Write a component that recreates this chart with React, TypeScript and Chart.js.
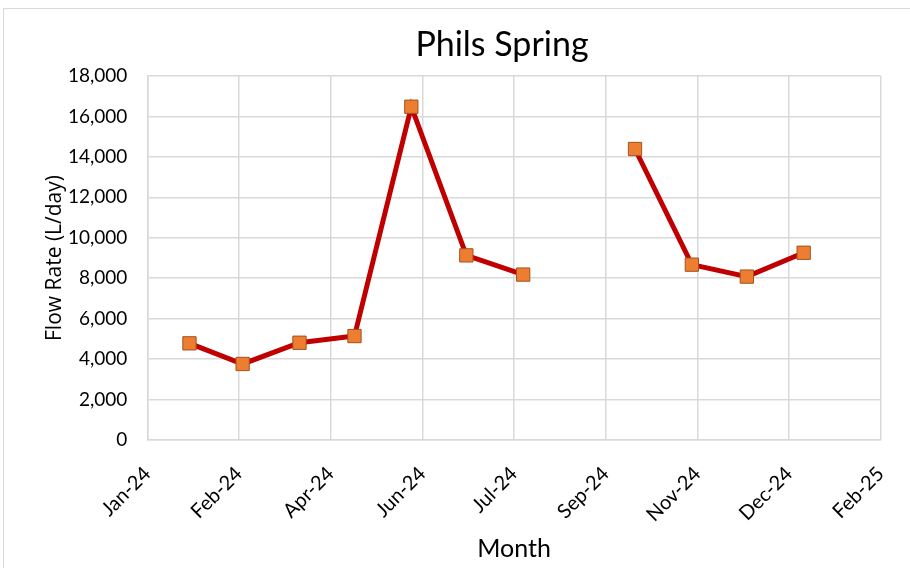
import React, { useEffect, useRef } from 'react';
import { Chart, registerables } from 'chart.js';

Chart.register(...registerables);

const TITLE = 'Phils Spring';
const X_TITLE = 'Month';
const Y_TITLE = 'Flow Rate (L/day)';

const DATES = [
  '2024-02-01', '2024-03-01', '2024-04-01', '2024-05-01', '2024-06-01', '2024-07-01',
  '2024-08-01', '2024-09-01', '2024-10-01', '2024-11-01', '2024-12-01', '2025-01-01',
];
const FLOW = [4780, 3760, 4810, 5140, 16480, 9130, 8180, null, 14390, 8670, 8080, 9260];

const X_MIN_DATE = '2024-01-09';
const X_MAX_DATE = '2025-02-12';
const X_STEP_DAYS = 50;
const Y_MIN = 0;
const Y_MAX = 18000;
const Y_STEP = 2000;
const MONTHS = ['Jan', 'Feb', 'Mar', 'Apr', 'May', 'Jun', 'Jul', 'Aug', 'Sep', 'Oct', 'Nov', 'Dec'];

function toSerial(iso: string): number {
  const [y, m, d] = iso.split('-').map(Number);
  return Date.UTC(y, m - 1, d) / 86400000 + 25569;
}

function serialLabel(v: number): string {
  const dt = new Date((v - 25569) * 86400000);
  return MONTHS[dt.getUTCMonth()] + '-' + String(dt.getUTCFullYear() % 100).padStart(2, '0');
}

const FONT = 'Lato';
const YTITLE_FONT = '"Open Sans"';

const titlePlugin = {
  id: 'excelTitle',
  afterDraw(chart: any) {
    const { ctx } = chart;
    ctx.save();
    ctx.font = `34px ${FONT}`;
    ctx.fillStyle = '#000';
    ctx.textAlign = 'center';
    ctx.textBaseline = 'alphabetic';
    ctx.fillText(TITLE, 502, 56);
    ctx.restore();
  },
};

export default function App() {
  const ref = useRef<HTMLCanvasElement | null>(null);

  useEffect(() => {
    let chart: Chart | null = null;
    let cancelled = false;
    const make = () => {
      if (cancelled || !ref.current) return;
      chart = new Chart(ref.current, {
        type: 'line',
        data: {
          datasets: [
            {
              data: DATES.map((d, i) => ({ x: toSerial(d), y: FLOW[i] })) as any,
              borderColor: '#c00000',
              borderWidth: 5,
              pointStyle: 'rect',
              pointRadius: 9.4,
              pointBackgroundColor: '#ed7d31',
              pointBorderColor: '#a5521b',
              pointBorderWidth: 1,
              spanGaps: false,
              tension: 0,
              fill: false,
            },
          ],
        },
        options: {
          responsive: false,
          animation: false,
          devicePixelRatio: 1,
          layout: { padding: { left: 30, right: 29.3, top: 76, bottom: 0 } },
          plugins: {
            legend: { display: false },
            tooltip: { enabled: false },
            title: { display: false },
          },
          scales: {
            x: {
              type: 'linear',
              min: toSerial(X_MIN_DATE),
              max: toSerial(X_MAX_DATE),
              ticks: {
                stepSize: X_STEP_DAYS,
                autoSkip: false,
                maxRotation: 45,
                minRotation: 45,
                padding: 22,
                color: '#000',
                font: { family: FONT, size: 20 },
                callback: (v: any) => serialLabel(Number(v)),
              },
              grid: { color: '#d9d9d9', lineWidth: 1.5, drawTicks: false },
              border: { color: '#d9d9d9', width: 1.5 },
              title: {
                display: true,
                text: X_TITLE,
                color: '#000',
                font: { family: FONT, size: 25 },
                padding: { top: 4, bottom: 4 },
              },
              afterFit: (s: any) => {
                s.height = 128;
                s.paddingLeft = 0;
                s.paddingRight = 0;
              },
            },
            y: {
              min: Y_MIN,
              max: Y_MAX,
              ticks: {
                stepSize: Y_STEP,
                padding: 20,
                color: '#000',
                font: { family: FONT, size: 19 },
                callback: (v: any) => Number(v).toLocaleString('en-US'),
              },
              grid: { color: '#d9d9d9', lineWidth: 1.5, drawTicks: false },
              border: { color: '#d9d9d9', width: 1.5 },
              title: {
                display: true,
                text: Y_TITLE,
                color: '#000',
                font: { family: YTITLE_FONT, size: 21 },
                padding: { top: 12, bottom: 6 },
              },
              afterFit: (s: any) => {
                s.width = 117.3;
              },
            },
          },
        },
        plugins: [titlePlugin],
      } as any);
    };
    const fonts = (document as any).fonts;
    if (fonts && fonts.load) {
      Promise.all([
        fonts.load(`18px ${FONT}`),
        fonts.load(`34px ${FONT}`),
        fonts.load(`21px ${YTITLE_FONT}`),
      ]).then(make, make);
    } else {
      make();
    }
    return () => {
      cancelled = true;
      if (chart) chart.destroy();
    };
  }, []);

  return (
    <div
      style={{
        position: 'fixed',
        left: 0,
        top: 0,
        width: 910,
        height: 568,
        overflow: 'hidden',
        background: '#fff',
      }}
    >
      <div
        style={{
          position: 'absolute',
          left: 3,
          top: 8,
          width: 1000,
          height: 1000,
          border: '1px solid #d9d9d9',
        }}
      />
      <canvas
        ref={ref}
        width={910}
        height={568}
        style={{ position: 'absolute', left: 0, top: 0, width: 910, height: 568, display: 'block' }}
      />
    </div>
  );
}
